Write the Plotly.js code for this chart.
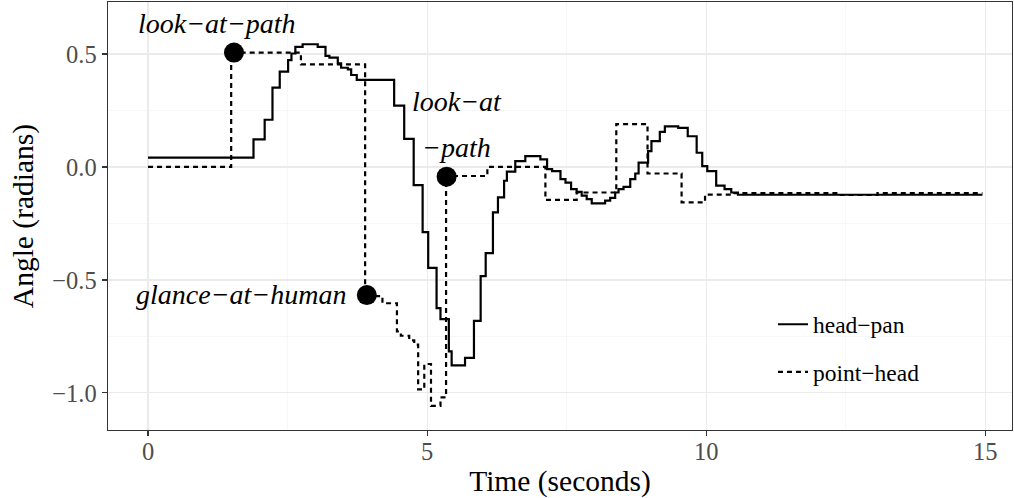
<!DOCTYPE html>
<html>
<head>
<meta charset="utf-8">
<script src="https://cdn.plot.ly/plotly-3.0.1.min.js"></script>
<style>html,body{margin:0;padding:0;background:#fff;}#chart{width:1014px;height:498px;}</style>
</head>
<body>
<div id="chart"></div>
<script>
// head-pan (solid), step function: time in seconds, angle in radians
const headTime = [0, 1.89, 2.09, 2.23, 2.36, 2.51, 2.57, 2.64, 2.77, 3.04, 3.18, 3.25, 3.40, 3.46, 3.58, 3.64, 3.74,
  4.41, 4.59, 4.76, 4.92, 5.02, 5.17, 5.24, 5.39, 5.44, 5.68, 5.84, 5.96, 6.05, 6.18, 6.27, 6.38, 6.43, 6.58, 6.76,
  7.03, 7.15, 7.24, 7.39, 7.48, 7.58, 7.68, 7.77, 7.86, 7.95, 8.19, 8.28, 8.37, 8.43, 8.52, 8.64, 8.73, 8.79, 8.96,
  9.02, 9.17, 9.26, 9.50, 9.67, 9.83, 9.93, 10.02, 10.18, 10.33, 10.45, 10.57, 14.95];
const headPan = [0.041, 0.122, 0.209, 0.351, 0.422, 0.473, 0.502, 0.531, 0.543, 0.531, 0.492, 0.484, 0.458, 0.439, 0.432, 0.407, 0.385,
  0.271, 0.124, -0.080, -0.288, -0.447, -0.625, -0.673, -0.816, -0.878, -0.845, -0.681, -0.483, -0.381, -0.201, -0.135, -0.061, -0.021, 0.026, 0.048,
  0.034, -0.010, -0.018, -0.054, -0.069, -0.098, -0.110, -0.127, -0.142, -0.161, -0.149, -0.137, -0.113, -0.098, -0.088, -0.054, -0.029, 0.019, 0.070,
  0.114, 0.155, 0.180, 0.173, 0.136, 0.063, 0.004, -0.018, -0.083, -0.098, -0.113, -0.123, -0.123];

// point-head (dashed), step function
const pointTime = [0, 1.49, 2.74, 3.89, 4.20, 4.46, 4.53, 4.68, 4.77, 4.84, 4.95, 5.07, 5.24, 5.34, 6.08, 7.12, 7.68, 8.39, 8.95, 9.56, 9.98, 10.5, 12.36, 13.07, 14.95];
const pointHead = [0.0, 0.506, 0.454, -0.572, -0.603, -0.728, -0.747, -0.767, -0.786, -0.984, -0.872, -1.057, -1.020, -0.040, 0.0, -0.146, -0.113, 0.190, -0.029, -0.157, -0.122, -0.116, -0.124, -0.116, -0.116];

// behaviour change markers
const markTime = [1.54, 3.92, 5.35];
const markAngle = [0.506, -0.567, -0.043];

// labels
const labelText = ['look−at−path', 'look−at', '−path', 'glance−at−human'];
const labelTime = [1.24, 5.53, 5.53, 3.58];
const labelAngle = [0.636, 0.288, 0.084, -0.566];
const labelAnchor = ['center', 'center', 'center', 'right'];

const seriesNames = ['head−pan', 'point−head'];
const xTicks = [0, 5, 10, 15];
const yTicks = [-1.0, -0.5, 0.0, 0.5];
const yTickText = ['−1.0', '−0.5', '0.0', '0.5'];

const serif = 'Liberation Serif, Times New Roman, serif';

const traces = [
  {x: headTime, y: headPan, type: 'scatter', mode: 'lines', name: seriesNames[0],
   line: {shape: 'hv', color: '#000', width: 2.2}, legendgroup: 'a'},
  {x: pointTime, y: pointHead, type: 'scatter', mode: 'lines', name: seriesNames[1],
   line: {shape: 'hv', color: '#000', width: 2.2, dash: '5px,4px'}, legendgroup: 'b'},
  {x: markTime, y: markAngle, type: 'scatter', mode: 'markers', showlegend: false,
   marker: {size: 20, color: '#000'}}
];

const annotations = labelText.map((t, i) => ({
  x: labelTime[i], y: labelAngle[i], xref: 'x', yref: 'y', text: t, showarrow: false,
  xanchor: labelAnchor[i], yanchor: 'middle',
  font: {family: serif, size: 28, color: '#000', style: 'italic'}
}));

const layout = {
  width: 1014, height: 498,
  margin: {l: 108, r: 2, t: 2, b: 68},
  paper_bgcolor: '#fff', plot_bgcolor: '#fff',
  showlegend: true,
  legend: {x: 0.7356, y: 0.298, xanchor: 'left', yanchor: 'top', bgcolor: 'rgba(0,0,0,0)',
    font: {family: serif, size: 23.5, color: '#000'}, tracegroupgap: 14, traceorder: 'grouped'},
  xaxis: {range: [-0.717, 15.48], tickvals: xTicks, ticktext: xTicks.map(String),
    showgrid: true, gridcolor: '#ebebeb', gridwidth: 1.1,
    minor: {tickvals: [2.5, 7.5, 12.5], showgrid: true, gridcolor: '#f2f2f2', gridwidth: 0.6, ticks: ''},
    zeroline: false, showline: true, mirror: true, linecolor: '#333', linewidth: 1.4,
    ticks: 'outside', ticklen: 5, tickcolor: '#333', tickwidth: 1.1, ticklabelstandoff: -6,
    tickfont: {family: serif, size: 24.5, color: '#4d4d4d'},
    title: {text: 'Time (seconds)', font: {family: serif, size: 29.5, color: '#000'}, standoff: 6}},
  yaxis: {range: [-1.164, 0.730], tickvals: yTicks, ticktext: yTickText,
    showgrid: true, gridcolor: '#ebebeb', gridwidth: 1.1,
    minor: {tickvals: [-0.75, -0.25, 0.25], showgrid: true, gridcolor: '#f2f2f2', gridwidth: 0.6, ticks: ''},
    zeroline: false, showline: true, mirror: true, linecolor: '#333', linewidth: 1.4,
    ticks: 'outside', ticklen: 5, tickcolor: '#333', tickwidth: 1.1,
    tickfont: {family: serif, size: 24.5, color: '#4d4d4d'},
    title: {text: 'Angle (radians)', font: {family: serif, size: 29.5, color: '#000'}, standoff: 10}},
  shapes: [{type: 'rect', xref: 'paper', yref: 'paper', x0: 0.707, x1: 0.915, y0: 0.047, y1: 0.357,
    fillcolor: '#fff', line: {width: 0}, layer: 'between'}],
  annotations: annotations
};

Plotly.newPlot('chart', traces, layout, {staticPlot: true, displayModeBar: false});
</script>
</body>
</html>
